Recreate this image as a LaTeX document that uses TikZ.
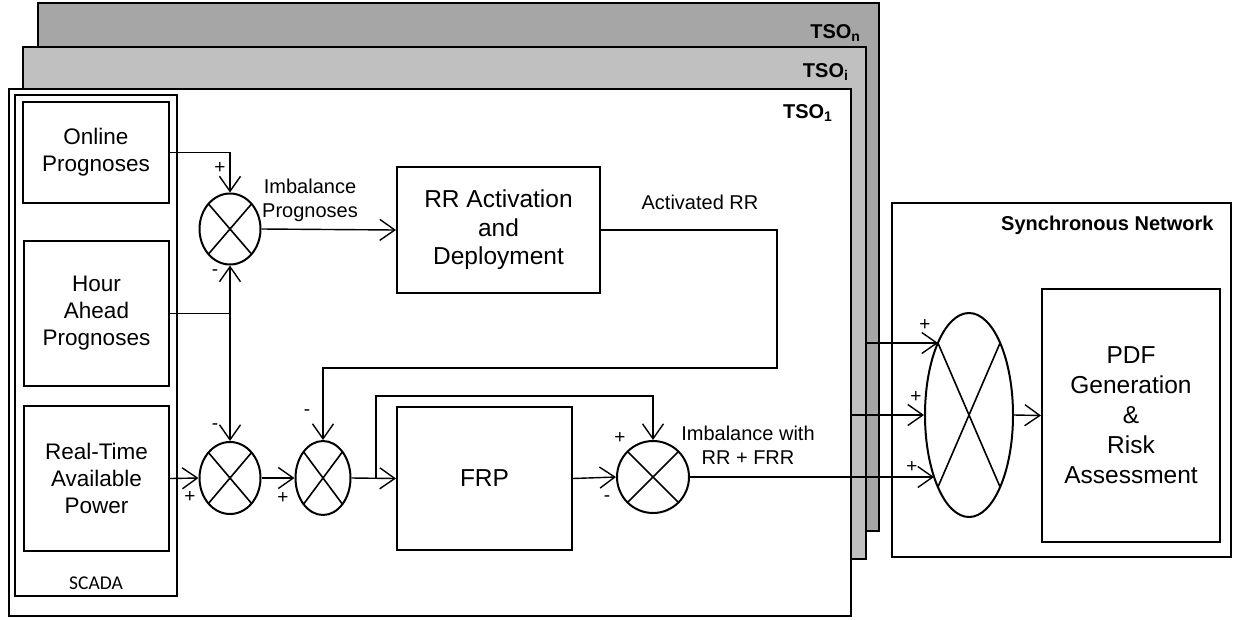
\documentclass[tikz,border=0pt]{standalone}
\usepackage{fontspec}
\setmainfont{Liberation Sans}
\newfontfamily\scadafont{Carlito}
\usetikzlibrary{arrows.meta,shapes.geometric,calc}
\definecolor{tsongray}{RGB}{166,166,166}
\definecolor{tsoigray}{RGB}{192,192,192}
\begin{document}
\begin{tikzpicture}[x=1pt,y=-1pt,
  panel/.style={draw, line width=2.2pt},
  blockbox/.style={draw, rectangle, line width=2pt, inner sep=0pt, align=center},
  bigtext/.style={font=\fontsize{24.5}{28.5}\selectfont},
  pdftext/.style={font=\fontsize{24.5}{30}\selectfont},
  srctext/.style={font=\fontsize{22.5}{27}\selectfont},
  lbl/.style={font=\fontsize{20}{24}\selectfont, align=center},
  ttl/.style={font=\bfseries\fontsize{20}{24}\selectfont, anchor=east},
  sgn/.style={font=\fontsize{19}{22}\selectfont, inner sep=0pt},
  sumj/.style={draw, ellipse, line width=2pt, inner sep=0pt,
    path picture={
      \draw[line width=1.6pt]
        ($(path picture bounding box.center)!0.7071!(path picture bounding box.north east)$) --
        ($(path picture bounding box.center)!0.7071!(path picture bounding box.south west)$);
      \draw[line width=1.6pt]
        ($(path picture bounding box.center)!0.7071!(path picture bounding box.north west)$) --
        ($(path picture bounding box.center)!0.7071!(path picture bounding box.south east)$);
    }},
  conn/.style={line width=1.4pt},
  arr/.style={conn, -{Straight Barb[length=15pt,width=21pt]}},
]
\useasboundingbox (0,0) rectangle (1233,619);

% TSO panels
\draw[panel, fill=tsongray] (38,3) rectangle (879,531);
\draw[panel, fill=tsoigray] (23,47) rectangle (866,559);
\draw[panel, fill=white] (9,89) rectangle (851,616);
\node[ttl] (tson) at (864,33) {TSO\textsubscript{n}};
\node[ttl] (tsoi) at (852,72) {TSO\textsubscript{i}};
\node[ttl] (tso1) at (836,113) {TSO\textsubscript{1}};

% Synchronous network
\draw[panel, fill=white] (892,203) rectangle (1231,557);
\node[ttl] (sn) at (1217,225) {Synchronous Network};

% SCADA
\draw[line width=2pt] (15,95) rectangle (177,596);
\node[font=\scadafont\fontsize{19.5}{22}\selectfont] (scada) at (96,583) {SCADA};
\node[blockbox, srctext, minimum width=146pt, minimum height=101pt] (on) at (96,152.5) {Online\\Prognoses};
\node[blockbox, srctext, minimum width=145pt, minimum height=145pt] (hr) at (96.5,313.5) {Hour\\Ahead\\Prognoses};
\node[blockbox, srctext, minimum width=145pt, minimum height=145pt] (rt) at (96.5,478.5) {Real-Time\\Available\\Power};

% blocks
\node[blockbox, bigtext, minimum width=203pt, minimum height=126pt] (rr) at (498.5,230) {RR Activation\\and\\Deployment};
\node[blockbox, bigtext, minimum width=175pt, minimum height=143pt] (frp) at (484.5,478.5) {FRP};
\node[blockbox, pdftext, minimum width=178pt, minimum height=253pt] (pdf) at (1131,415.5) {PDF\\Generation\\\&\\Risk\\Assessment};

% summing junctions
\node[sumj, minimum width=61pt, minimum height=71pt] (j1) at (230,229) {};
\node[sumj, minimum width=61pt, minimum height=72pt] (j2) at (230,478) {};
\node[sumj, minimum width=55pt, minimum height=74pt] (j3) at (323,478) {};
\node[sumj, minimum width=72pt, minimum height=72pt] (j4) at (653,477) {};
\node[sumj, minimum width=88pt, minimum height=204pt] (big) at (969,415) {};

% helper coordinates
\coordinate (c1) at (777,368);
\coordinate (br) at (376,478);
\coordinate (fb) at (376,396);
\coordinate (e1) at (938,343);
\coordinate (e3) at (934,477);
\coordinate (s1) at (866,343);
\coordinate (s2) at (852,415);

% connectors
\draw[arr] (on.east) -| (j1.north);
\draw[arr] (hr.east) -| (j1.south);
\draw[arr] (hr.east -| j1.south) -- (j2.north);
\draw[arr] (rt.east) -- (j2.west);
\draw[arr] (j2.east) -- (j3.west);
\draw[arr] (j3.east) -- (frp.west);
\draw[arr] (br) -- (fb) -| (j4.north);
\draw[arr] (frp.east) -- (j4.west);
\draw[arr] (j1.east) -- (rr.west);
\draw[arr] (rr.east) -| (c1) -| (j3.north);
\draw[arr] (j4.east) -- (e3);
\draw[arr] (s1) -- (e1);
\draw[arr] (s2) -- (big.west);
\draw[arr] (big.east) -- (pdf.west);

% signs
\node[sgn] (p1) at (220,168) {+};
\node[sgn] (m1) at (215,273) {-};
\node[sgn] (m2) at (215,427) {-};
\node[sgn] (p2) at (190,497) {+};
\node[sgn] (p3) at (283,498) {+};
\node[sgn] (m3) at (307,413) {-};
\node[sgn] (p4) at (620,438) {+};
\node[sgn] (m4) at (607,499) {-};
\node[sgn] (p5) at (925,325) {+};
\node[sgn] (p6) at (916,397) {+};
\node[sgn] (p7) at (912,467) {+};

% labels
\node[lbl] (lip) at (310,200) {Imbalance\\Prognoses};
\node[lbl] (lar) at (700,202) {Activated RR};
\node[lbl] (liw) at (748,445) {Imbalance with\\RR + FRR};
\end{tikzpicture}
\end{document}
